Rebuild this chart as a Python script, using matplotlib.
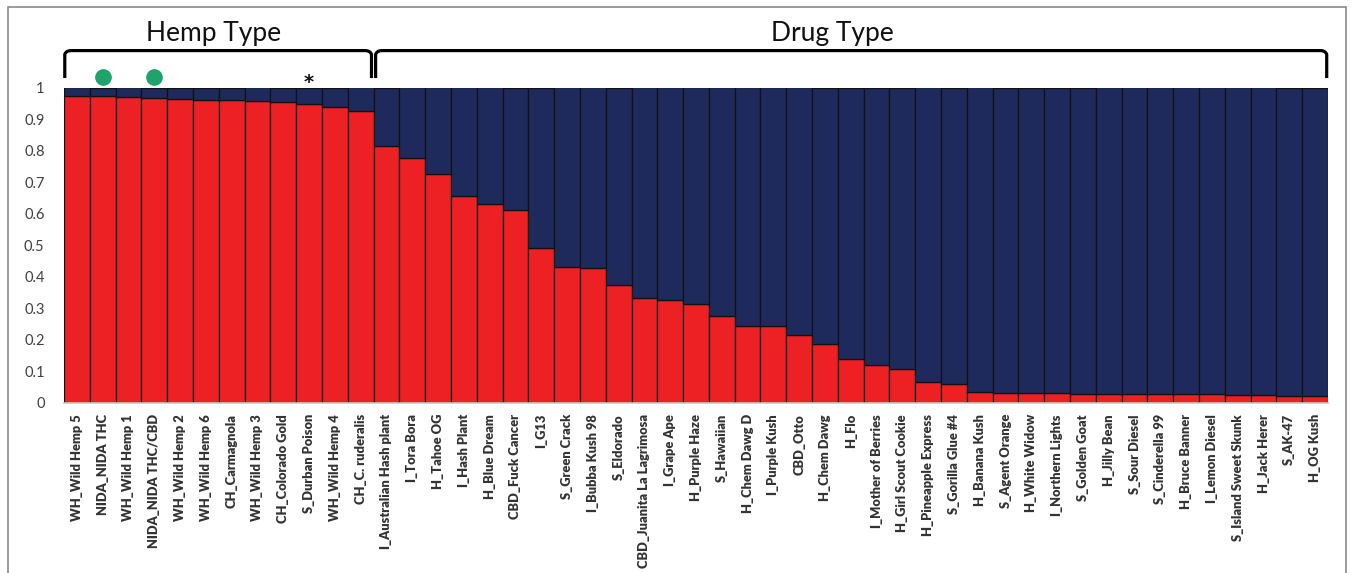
import matplotlib
matplotlib.use("Agg")
import matplotlib.pyplot as plt
from matplotlib.patches import Rectangle
from matplotlib.path import Path
from matplotlib.patches import PathPatch
import numpy as np

plt.rcParams['font.family'] = ['Lato', 'DejaVu Sans']

categories = [
    "WH_Wild Hemp 5", "NIDA_NIDA THC", "WH_Wild Hemp 1", "NIDA_NIDA THC/CBD",
    "WH_Wild Hemp 2", "WH_Wild Hemp 6", "CH_Carmagnola", "WH_Wild Hemp 3",
    "CH_Colorado Gold", "S_Durban Poison", "WH_Wild Hemp 4", "CH_C. ruderalis",
    "I_Australian Hash plant", "I_Tora Bora", "H_Tahoe OG", "I_Hash Plant",
    "H_Blue Dream", "CBD_Fuck Cancer", "I_G13", "S_Green Crack", "I_Bubba Kush 98",
    "S_Eldorado", "CBD_Juanita La Lagrimosa", "I_Grape Ape", "H_Purple Haze",
    "S_Hawaiian", "H_Chem Dawg D", "I_Purple Kush", "CBD_Otto", "H_Chem Dawg",
    "H_Flo", "I_Mother of Berries", "H_Girl Scout Cookie", "H_Pineapple Express",
    "S_Gorilla Glue #4", "H_Banana Kush", "S_Agent Orange", "H_White Widow",
    "I_Northern Lights", "S_Golden Goat", "H_Jilly Bean", "S_Sour Diesel",
    "S_Cinderella 99", "H_Bruce Banner", "I_Lemon Diesel", "S_Island Sweet Skunk",
    "H_Jack Herer", "S_AK-47", "H_OG Kush",
]

hemp_share = [
    0.972, 0.973, 0.969, 0.968, 0.965, 0.960, 0.960, 0.958, 0.954, 0.947, 0.938, 0.927,
    0.816, 0.776, 0.727, 0.655, 0.631, 0.612, 0.492, 0.432, 0.429,
    0.375, 0.332, 0.327, 0.315, 0.276, 0.244, 0.244, 0.215, 0.187,
    0.140, 0.120, 0.109, 0.065, 0.061, 0.036, 0.031, 0.031, 0.031, 0.030,
    0.0275, 0.0275, 0.0275, 0.0275, 0.0275, 0.025, 0.025, 0.023, 0.023,
]
drug_share = [1 - v for v in hemp_share]

n_hemp = 12
marked_dots = ["NIDA_NIDA THC", "NIDA_NIDA THC/CBD"]
marked_star = ["S_Durban Poison"]

yticks = [0, 0.1, 0.2, 0.3, 0.4, 0.5, 0.6, 0.7, 0.8, 0.9, 1]
ytick_labels = ["0", "0.1", "0.2", "0.3", "0.4", "0.5", "0.6", "0.7", "0.8", "0.9", "1"]

RED = "#ED2024"
NAVY = "#1F2A5C"

W, H = 1356, 573
fig = plt.figure(figsize=(W / 100, H / 100), dpi=100)
ax = fig.add_axes([64 / W, 1 - 403 / H, (1328 - 64) / W, (403 - 87.5) / H])

x = np.arange(len(categories))
ax.bar(x, hemp_share, width=1.0, color=RED, edgecolor="#111111", linewidth=0.9)
ax.bar(x, drug_share, bottom=hemp_share, width=1.0, color=NAVY, edgecolor="#111111", linewidth=0.9)

ax.set_xlim(-0.5, len(categories) - 0.5)
ax.set_ylim(0, 1)
ax.set_yticks(yticks)
ax.set_yticklabels(ytick_labels, fontsize=10.5, color="#404040")
ax.set_xticks(x)
ax.set_xticklabels(categories, rotation=90, fontsize=9.3, color="#333333", fontweight="heavy")
ax.tick_params(axis="both", length=0)
ax.tick_params(axis="x", pad=8)
ax.tick_params(axis="y", pad=14)
for s in ["top", "right", "left"]:
    ax.spines[s].set_visible(False)
ax.spines["bottom"].set_color("#c8c8c8")
ax.spines["bottom"].set_linewidth(1.2)

# brackets
def bracket(x0, x1, ytop, ybot):
    r = 0.25
    verts = [(x0, ybot), (x0, ytop - 0.012), (x0 + 0.05, ytop), (x0 + r, ytop),
             (x1 - r, ytop), (x1 - 0.05, ytop), (x1, ytop - 0.012), (x1, ybot)]
    codes = [Path.MOVETO, Path.LINETO, Path.CURVE3, Path.CURVE3,
             Path.LINETO, Path.CURVE3, Path.CURVE3, Path.LINETO]
    p = PathPatch(Path(verts, codes), fill=False, lw=2.3, color="black",
                  clip_on=False, capstyle="butt")
    ax.add_patch(p)

bracket(-0.47, n_hemp - 0.58, 1.117, 1.03)
bracket(n_hemp - 0.42, len(categories) - 0.55, 1.117, 1.03)

ax.text((-0.5 + n_hemp - 0.5) / 2 - 0.2, 1.17, "Hemp Type", ha="center", va="center",
        fontsize=19, color="#111111", clip_on=False)
ax.text((n_hemp - 0.5 + len(categories) - 0.5) / 2 - 0.7, 1.17, "Drug Type", ha="center",
        va="center", fontsize=19, color="#111111", clip_on=False)

for c in marked_dots:
    i = categories.index(c)
    ax.plot([i], [1.033], marker="o", markersize=11, color="#20A36B",
            clip_on=False, linestyle="none")
for c in marked_star:
    i = categories.index(c)
    ax.text(i, 1.015, "*", ha="center", va="center", fontsize=14, color="#111111",
            clip_on=False, fontweight="bold", family="DejaVu Sans")

# outer frame
frame = Rectangle((8 / W, -0.01), (1346 - 8) / W, 1 - 7 / H + 0.01, transform=fig.transFigure,
                  fill=False, edgecolor="#8a8a8a", linewidth=1.2)
fig.patches.append(frame)

fig.savefig("out.png", dpi=100)
